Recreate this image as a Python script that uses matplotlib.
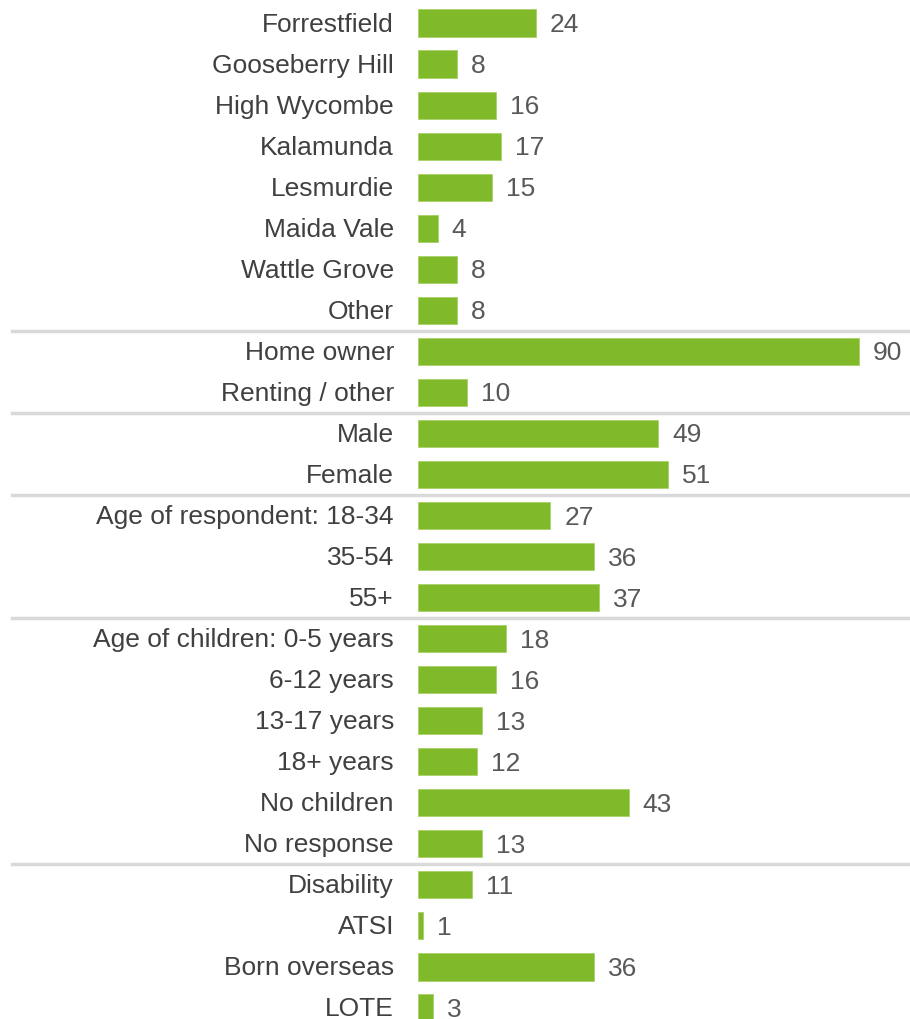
import matplotlib.pyplot as plt
from matplotlib.lines import Line2D
from matplotlib.transforms import blended_transform_factory

plt.rcParams['font.family'] = ['Liberation Sans', 'DejaVu Sans']

labels = ["Forrestfield", "Gooseberry Hill", "High Wycombe", "Kalamunda", "Lesmurdie",
          "Maida Vale", "Wattle Grove", "Other",
          "Home owner", "Renting / other",
          "Male", "Female",
          "Age of respondent: 18-34", "35-54", "55+",
          "Age of children: 0-5 years", "6-12 years", "13-17 years", "18+ years",
          "No children", "No response",
          "Disability", "ATSI", "Born overseas", "LOTE"]
values = [24, 8, 16, 17, 15, 4, 8, 8,
          90, 10,
          49, 51,
          27, 36, 37,
          18, 16, 13, 12, 43, 13,
          11, 1, 36, 3]
# separators after these row indices
group_ends = [7, 9, 11, 14, 20]

bar_color = "#80b929"
label_color = "#404040"
value_color = "#595959"

fig = plt.figure(figsize=(9.10, 10.19), dpi=100)
ax = fig.add_axes([418 / 910, 0, 1 - 418 / 910, 1])

rows = list(range(len(labels)))
ax.barh(rows, values, height=0.66, color=bar_color, edgecolor="#a6d26a", linewidth=0.6)

ax.set_xlim(0, (910 - 418) / 4.9)
ax.set_ylim(24 + 11 / 41.04, -23 / 41.04)
ax.axis("off")

for i, (lab, v) in enumerate(zip(labels, values)):
    ax.annotate(lab, (0, i), xytext=(-24, -1.5), textcoords="offset pixels",
                ha="right", va="center", fontsize=19, color=label_color)
    ax.annotate(str(v), (v, i), xytext=(14, -2), textcoords="offset pixels",
                ha="left", va="center", fontsize=19, color=value_color)

trans = blended_transform_factory(fig.transFigure, ax.transData)
for g in group_ends:
    fig.add_artist(Line2D([12 / 910, 1], [g + 0.5, g + 0.5], transform=trans,
                          color="#d9d9d9", linewidth=2.5))

fig.savefig("out.png", dpi=100)
